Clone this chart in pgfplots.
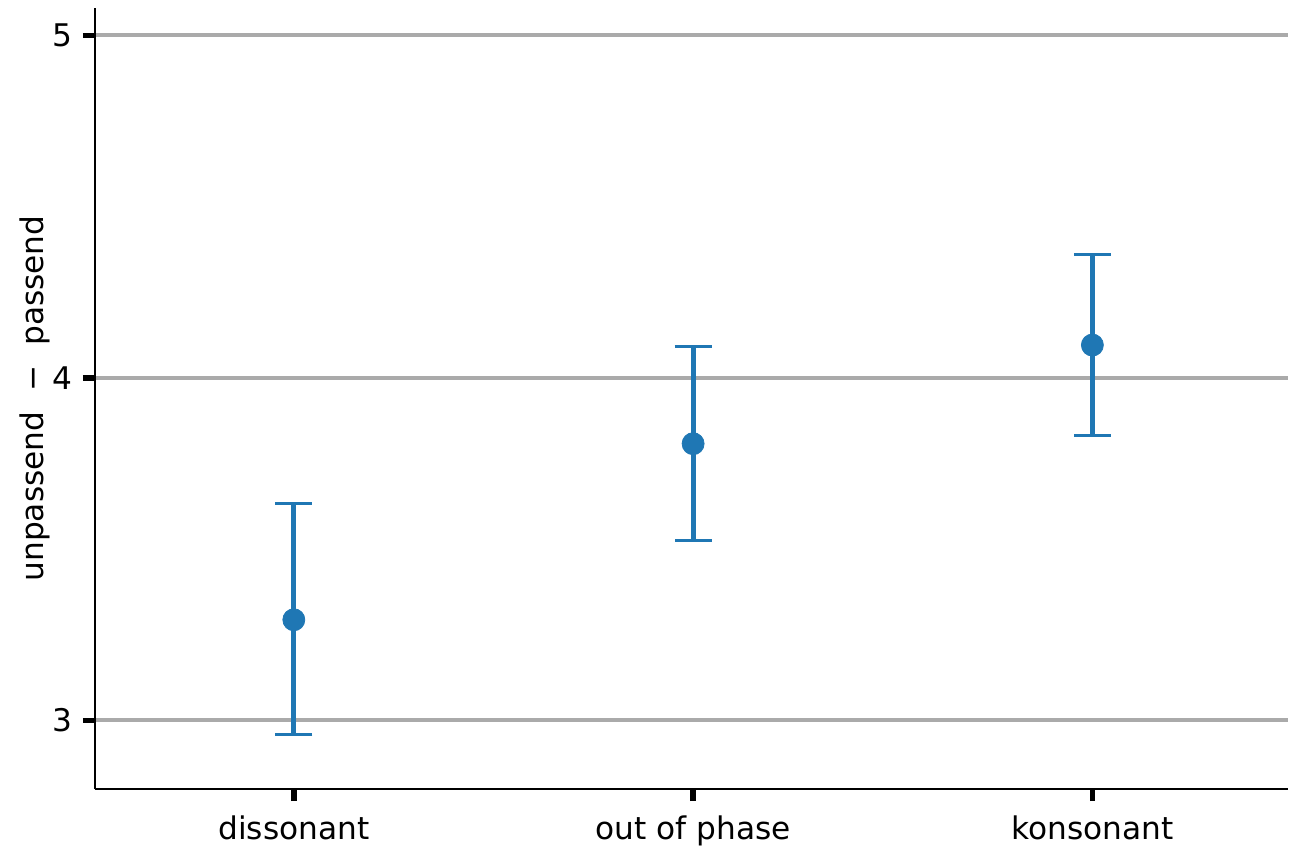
\documentclass[border=0pt]{standalone}
\usepackage{fontspec}
\setmainfont{DejaVu Sans}
\usepackage{pgfplots}
\pgfplotsset{compat=1.18}
\definecolor{tabblue}{HTML}{1F77B4}
\definecolor{gridgray}{HTML}{AAAAAA}
\begin{document}
\fontsize{15.6pt}{18pt}\selectfont
\begin{tikzpicture}
\begin{axis}[
  at={(0,0)}, anchor=south west,
  scale only axis, width=596.5pt, height=390.5pt,
  xmin=-0.498, xmax=2.49, ymin=2.80, ymax=5.08,
  axis x line*=bottom, axis y line*=left,
  axis line style={-, line width=1pt, black},
  xtick={0,1,2}, xticklabels={dissonant, out of phase, konsonant},
  ytick={3,4,5},
  xtick pos=bottom, ytick pos=left,
  tick align=outside, major tick length=6pt,
  xtick style={black, line width=2.8pt},
  ytick style={black, line width=2.8pt},
  ymajorgrids, grid style={gridgray, line width=2pt},
  /pgf/number format/assume math mode=true,
  ticklabel style={font=\fontsize{15.6pt}{18pt}\selectfont},
  xticklabel style={yshift=-2pt},
  yticklabel style={xshift=0pt},
  ylabel={unpassend\ \ −\ \ passend},
  every axis y label/.style={at={(axis description cs:0,0.5)}, xshift=-30pt, rotate=90, anchor=center, font=\fontsize{15.6pt}{18pt}\selectfont},
  clip=false,
]
\addplot[tabblue, only marks, mark=*, mark size=5.5pt, mark options={fill=tabblue, draw=tabblue},
  error bars/.cd, y dir=both, y explicit,
  error bar style={line width=2.5pt, tabblue},
  error mark options={rotate=90, mark size=9.25pt, line width=1.5pt, tabblue}]
coordinates {
  (0,3.294) +- (0,0.339) -= (0,0.335)
  (1,3.808) +- (0,0.285) -= (0,0.283)
  (2,4.096) +- (0,0.263) -= (0,0.265)
};
\end{axis}
\pgfresetboundingbox
\path[use as bounding box] (-47.5pt,-31pt) rectangle (602pt,394.5pt);
\end{tikzpicture}
\end{document}
